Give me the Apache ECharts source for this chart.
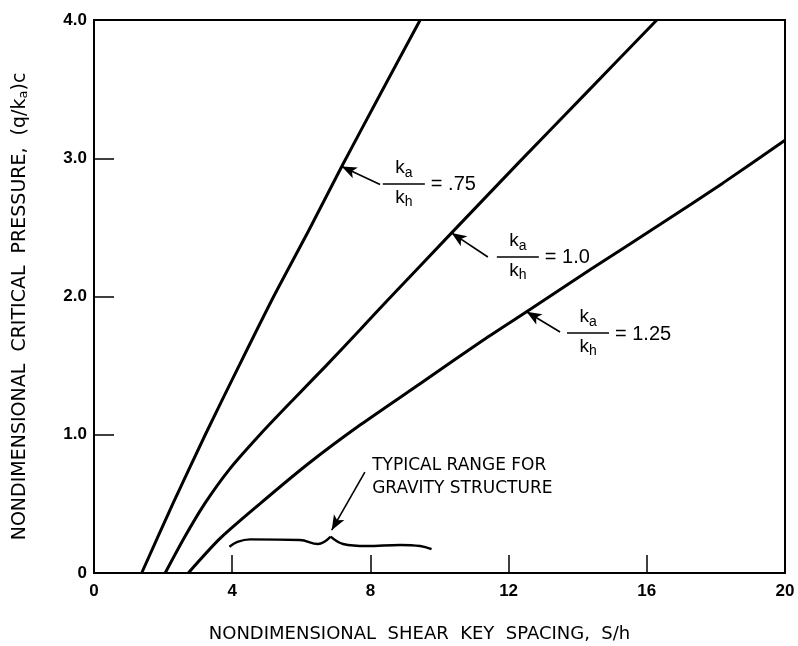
<!DOCTYPE html>
<html>
<head>
<meta charset="utf-8">
<script src="https://cdn.jsdelivr.net/npm/echarts@6/dist/echarts.min.js"></script>
<style>
html,body{margin:0;padding:0;background:#fff;}
#c{width:798px;height:646px;}
</style>
</head>
<body>
<div id="c"></div>
<script>
// ---- data ----
const xTickValues = [0, 4, 8, 12, 16, 20];
const yTickValues = [0, 1, 2, 3, 4];
const curve075 = [[1.38,0],[2.28,0.5],[3.22,1.0],[4.2,1.5],[5.2,2.0],[6.2,2.47],[7.17,2.94],[8.3,3.47],[9.44,4.0]];
const curve100 = [[2.06,0],[2.6,0.25],[3.2,0.5],[3.92,0.75],[4.8,1.0],[5.75,1.25],[6.72,1.5],[7.7,1.76],[8.6,2.0],[10.35,2.46],[12.3,2.97],[14.2,3.46],[16.29,4.0]];
const curve125 = [[2.73,0],[3.65,0.25],[4.8,0.5],[6.2,0.79],[7.7,1.07],[9.5,1.38],[11.27,1.685],[12.52,1.89],[14.4,2.2],[16.38,2.52],[18.2,2.82],[20,3.13]];
const ratioLabels = ['.75', '1.0', '1.25'];
// arrows: [tail, tip] in data coords
const arrows = [
  [[8.28,2.81],[7.17,2.94]],
  [[11.40,2.286],[10.35,2.46]],
  [[13.49,1.743],[12.52,1.89]],
  [[7.84,0.73],[6.88,0.31]]
];
// fraction bar left anchors in data coords
const fracAnchors = [[8.36,2.814],[11.66,2.286],[13.69,1.736]];
const braceLeft = [[3.92,0.19],[4.15,0.225],[4.52,0.243],[5.96,0.239],[6.48,0.21],[6.85,0.263]];
const braceRight = [[6.85,0.263],[7.21,0.21],[7.89,0.195],[8.86,0.203],[9.44,0.195],[9.77,0.172]];
const noteLines = ['TYPICAL RANGE FOR', 'GRAVITY STRUCTURE'];
const noteAnchor = [8.05, 0.774];
const xName = 'NONDIMENSIONAL  SHEAR  KEY  SPACING,  S/h';
const yName = 'NONDIMENSIONAL  CRITICAL  PRESSURE,  (q/k{sub|a})c';

const FONT = '"Liberation Sans", Arial, sans-serif';
const TFONT = '"DejaVu Sans", sans-serif';
const chart = echarts.init(document.getElementById('c'), null, {renderer:'canvas'});

function curveSeries(d){
  return {type:'line', data:d, smooth:0.25, showSymbol:false, symbol:'none',
    lineStyle:{color:'#000', width:3}, clip:true, silent:true, z:3};
}
const arrowSeries = {
  type:'line', data:[], showSymbol:false, silent:true,
  markLine:{silent:true, symbol:['none','arrow'], symbolSize:[9,15], label:{show:false},
    lineStyle:{color:'#000', width:1.6, type:'solid'},
    data: arrows.map(a => [{coord:a[0]},{coord:a[1]}])}
};
function braceSeries(d){
  return {type:'line', data:d, smooth:0.4, showSymbol:false, symbol:'none', silent:true,
    lineStyle:{color:'#000', width:2.4}, z:3};
}

chart.setOption({
  animation:false,
  backgroundColor:'#fff',
  grid:{left:94, top:20, right:13, bottom:73, outerBoundsMode:'none', containLabel:false,
    show:true, borderColor:'#000', borderWidth:2, backgroundColor:'transparent'},
  xAxis:{type:'value', min:0, max:20, interval:4,
    axisLine:{show:true, lineStyle:{color:'#000', width:2}},
    axisTick:{show:true, inside:true, length:18, lineStyle:{color:'#000', width:1.5}},
    splitLine:{show:false},
    axisLabel:{color:'#000', fontFamily:FONT, fontSize:17, fontWeight:'bold', margin:10,
      formatter:v => xTickValues.includes(v) ? String(v) : ''},
    name:xName, nameLocation:'middle', nameGap:52,
    nameTextStyle:{color:'#000', fontFamily:TFONT, fontSize:18, padding:[0,40,0,0]}
  },
  yAxis:{type:'value', min:0, max:4, interval:1,
    axisLine:{show:true, lineStyle:{color:'#000', width:2}},
    axisTick:{show:true, inside:true, length:20, lineStyle:{color:'#000', width:1.5}},
    splitLine:{show:false},
    axisLabel:{color:'#000', fontFamily:FONT, fontSize:17, fontWeight:'bold', margin:7,
      formatter:v => yTickValues.includes(v) ? (v===0 ? '0' : v.toFixed(1)) : ''},
    name:yName, nameLocation:'middle', nameGap:64, nameRotate:90,
    nameTextStyle:{color:'#000', fontFamily:TFONT, fontSize:19, padding:[0,20,0,0],
      rich:{sub:{fontFamily:TFONT, fontSize:13, color:'#000', padding:[7,0,0,0]}}}
  },
  series:[curveSeries(curve075), curveSeries(curve100), curveSeries(curve125), arrowSeries,
    braceSeries(braceLeft), braceSeries(braceRight)]
});

// annotation texts anchored to data coords
const g = [];
fracAnchors.forEach((a, i) => {
  const p = chart.convertToPixel({gridIndex:0}, a);
  const barW = 42;
  g.push({type:'line', shape:{x1:p[0], y1:p[1], x2:p[0]+barW, y2:p[1]}, style:{stroke:'#000', lineWidth:1.5}});
  const cx = p[0] + barW/2;
  g.push({type:'text', x:cx+1, y:p[1]-7, style:{text:'k', font:'19px '+FONT, fill:'#000', align:'right', verticalAlign:'bottom'}});
  g.push({type:'text', x:cx+1, y:p[1]-4, style:{text:'a', font:'14px '+FONT, fill:'#000', align:'left', verticalAlign:'bottom'}});
  g.push({type:'text', x:cx+1, y:p[1]+4, style:{text:'k', font:'19px '+FONT, fill:'#000', align:'right', verticalAlign:'top'}});
  g.push({type:'text', x:cx+1, y:p[1]+11, style:{text:'h', font:'14px '+FONT, fill:'#000', align:'left', verticalAlign:'top'}});
  g.push({type:'text', x:p[0]+barW+6, y:p[1]+1, style:{text:'= ' + ratioLabels[i], font:'20px '+FONT, fill:'#000', align:'left', verticalAlign:'middle'}});
});
const np = chart.convertToPixel({gridIndex:0}, noteAnchor);
noteLines.forEach((t, i) => {
  g.push({type:'text', x:np[0], y:np[1] + i*23, style:{text:t, font:'17px '+TFONT, fill:'#000', align:'left', verticalAlign:'middle'}});
});
chart.setOption({graphic:g});
</script>
</body>
</html>
